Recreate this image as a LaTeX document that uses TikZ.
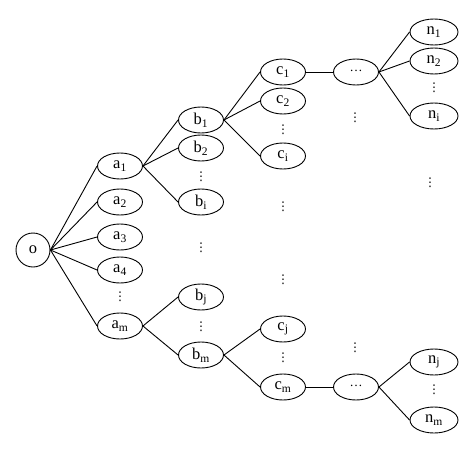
\documentclass[tikz,border=0pt]{standalone}
\usepackage{fontspec}
\setmainfont{Liberation Serif}
\newfontfamily\dvfont{DejaVu Sans}
\usetikzlibrary{shapes.geometric}
\newcommand{\myvd}{{\dvfont ⋮}}
\newcommand{\myell}{\raisebox{0.35ex}{\fontsize{13}{15}\selectfont\textellipsis}}
\begin{document}
\begin{tikzpicture}[x=1pt,y=-1pt,
  el/.style={ellipse,draw,line width=0.9pt,minimum width=45pt,minimum height=26pt,inner sep=0pt,font=\fontsize{16.5}{18}\selectfont},
  wide/.style={el,minimum width=48pt},
  rootnode/.style={circle,draw,line width=0.9pt,minimum size=34pt,inner sep=0pt,font=\fontsize{16.5}{18}\selectfont},
  vd/.style={inner sep=0pt,font=\fontsize{12}{14}\selectfont},
  edge/.style={line width=0.9pt}]
\useasboundingbox (0,0) rectangle (474,450);
% root
\node[rootnode] (o) at (33,250) {o};
% a column
\node[el] (a1) at (120,166) {a\textsubscript{1}};
\node[el] (a2) at (120,202) {a\textsubscript{2}};
\node[el] (a3) at (120,237) {a\textsubscript{3}};
\node[el] (a4) at (120,270) {a\textsubscript{4}};
\node[vd] (ad) at (120,297) {\myvd};
\node[el] (am) at (120,326) {a\textsubscript{m}};
% b column
\node[el] (b1) at (201,120) {b\textsubscript{1}};
\node[el] (b2) at (201,148) {b\textsubscript{2}};
\node[vd] (bd1) at (201,177) {\myvd};
\node[el] (bi) at (201,202) {b\textsubscript{i}};
\node[vd] (bdm) at (201,248) {\myvd};
\node[el] (bj) at (201,297) {b\textsubscript{j}};
\node[vd] (bd2) at (201,327) {\myvd};
\node[el] (bm) at (201,355) {b\textsubscript{m}};
% c column
\node[el] (c1) at (283,72) {c\textsubscript{1}};
\node[el] (c2) at (283,101) {c\textsubscript{2}};
\node[vd] (cd1) at (283,130) {\myvd};
\node[el] (ci) at (283,156) {c\textsubscript{i}};
\node[vd] (cdm1) at (283,207) {\myvd};
\node[vd] (cdm2) at (283,280) {\myvd};
\node[el] (cj) at (283,329) {c\textsubscript{j}};
\node[vd] (cd2) at (283,358) {\myvd};
\node[el] (cm) at (283,387) {c\textsubscript{m}};
% intermediate
\node[el] (d1) at (356,72) {\myell};
\node[vd] (dd1) at (355,118) {\myvd};
\node[vd] (dd2) at (355,348) {\myvd};
\node[el] (d2) at (356,387) {\myell};
% n column
\node[wide] (n1) at (434,32) {n\textsubscript{1}};
\node[wide] (n2) at (434,61) {n\textsubscript{2}};
\node[vd] (nd1) at (434,88) {\myvd};
\node[wide] (ni) at (434,116) {n\textsubscript{i}};
\node[vd] (ndm) at (430,183) {\myvd};
\node[wide] (nj) at (434,362) {n\textsubscript{j}};
\node[vd] (nd2) at (434,390) {\myvd};
\node[wide] (nm) at (434,420) {n\textsubscript{m}};
% edges
\foreach \t in {a1,a2,a3,a4,am} \draw[edge] (o.east) -- (\t.west);
\foreach \t in {b1,b2,bi} \draw[edge] (a1.east) -- (\t.west);
\foreach \t in {bj,bm} \draw[edge] (am.east) -- (\t.west);
\foreach \t in {c1,c2,ci} \draw[edge] (b1.east) -- (\t.west);
\foreach \t in {cj,cm} \draw[edge] (bm.east) -- (\t.west);
\draw[edge] (c1.east) -- (d1.west);
\draw[edge] (cm.east) -- (d2.west);
\foreach \t in {n1,n2,ni} \draw[edge] (d1.east) -- (\t.west);
\foreach \t in {nj,nm} \draw[edge] (d2.east) -- (\t.west);
\end{tikzpicture}
\end{document}
